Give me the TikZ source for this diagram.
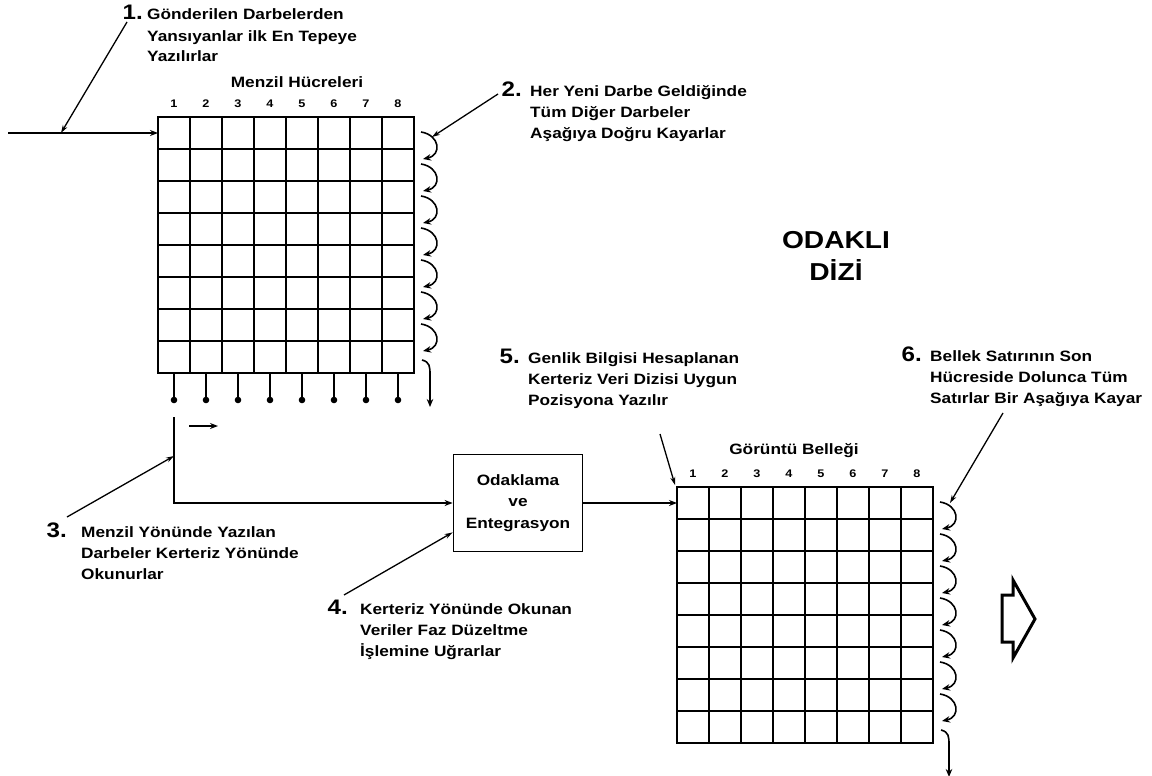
\documentclass[tikz,border=0pt]{standalone}
\usepackage{fontspec}
\setmainfont{Liberation Sans}[FakeStretch=1.15]
\usepackage{tikz}
\usetikzlibrary{positioning, arrows.meta, calc}

\tikzset{
  cellgrid/.style={draw, line width=1.8pt, minimum width=256pt, minimum height=256pt,
                   inner sep=0pt, outer sep=0pt},
  arr/.style={-{Stealth[length=8pt,width=6pt]}, line width=1.5pt},
  kayma/.style={-{Stealth[length=8pt,width=6.5pt]}, line width=1.6pt},
  lead/.style={-{Stealth[length=8pt,width=5pt]}, line width=1.3pt},
  note/.style={align=left, inner sep=0pt, font=\bfseries\fontsize{15}{21}\selectfont},
  numlbl/.style={inner sep=0pt, font=\bfseries\fontsize{21}{21}\selectfont},
  collbl/.style={inner sep=0pt, font=\bfseries\fontsize{11}{12}\selectfont},
}

\begin{document}
\begin{tikzpicture}[x=1pt, y=-1pt]
  \useasboundingbox (0,0) rectangle (1152,776);

  % the two cell memories
  \node[cellgrid] (menzil) at (286,245) {};
  \node[cellgrid] (bellek) at (805,615) {};
  \node[note] (menzilbaslik) at ($(menzil.north)+(11,-35)$) {Menzil Hücreleri};
  \node[note] (bellekbaslik) at ($(bellek.north)+(-11,-36)$) {Görüntü Belleği};

  \foreach \g in {menzil,bellek} {
    \foreach \k in {1,...,7} {
      \draw[line width=1.6pt] ($(\g.north west)+(\k*32,0)$) -- ($(\g.south west)+(\k*32,0)$);
      \draw[line width=1.6pt] ($(\g.north west)+(0,\k*32)$) -- ($(\g.north east)+(0,\k*32)$);
      % shift-down arrows
      \draw[kayma] ($(\g.north east)+(7,\k*32-17)$)
        .. controls +(19,3) and +(19,-4) .. ($(\g.north east)+(9,\k*32+10)$);
    }
    \foreach \k in {1,...,8}
      \node[collbl] (\g-c\k) at ($(\g.north west)+(\k*32-16,-13)$) {\k};
    \draw[kayma] ($(\g.south east)+(8,-13)$)
      .. controls +(8,2) and +(0,-8) .. ($(\g.south east)+(16,2)$) -- ($(\g.south east)+(16,34)$);
  }

  % read-out taps
  \foreach \k in {1,...,8} {
    \draw[line width=1.6pt] ($(menzil.south west)+(\k*32-16,0)$) -- ($(menzil.south west)+(\k*32-16,27)$);
    \fill ($(menzil.south west)+(\k*32-16,27)$) circle (3.3pt);
  }

  % signal path
  \coordinate (giris) at (8,133);
  \draw[arr] (giris) -- (giris -| menzil.west);
  \node[draw, line width=1.8pt, minimum width=129pt, minimum height=97pt, inner sep=0pt,
        align=center, font=\bfseries\fontsize{15}{21.5}\selectfont] (odak) at (518,503)
        {Odaklama\\ve\\Entegrasyon};
  \coordinate (besleme) at ($(menzil.south west)+(16,44)$);
  \draw[arr] (besleme) |- (odak.west);
  \draw[arr] (odak.east) -- (odak.east -| bellek.west);
  \coordinate (okbas) at (189,426);
  \coordinate (okuc) at (218,426);
  \draw[arr] (okbas) -- (okuc);

  % notes (anchored on the baseline of their last line)
  \node[note, anchor=base west] (t1) at (147,62)
    {Gönderilen Darbelerden\\Yansıyanlar ilk En Tepeye\\Yazılırlar};
  \node[note, anchor=base west] (t2) at (530,138)
    {Her Yeni Darbe Geldiğinde\\Tüm Diğer Darbeler\\Aşağıya Doğru Kayarlar};
  \node[note, anchor=base west] (t3) at (81,579)
    {Menzil Yönünde Yazılan\\Darbeler Kerteriz Yönünde\\Okunurlar};
  \node[note, anchor=base west] (t4) at (360,656)
    {Kerteriz Yönünde Okunan\\Veriler Faz Düzeltme\\İşlemine Uğrarlar};
  \node[note, anchor=base west] (t5) at (528,405)
    {Genlik Bilgisi Hesaplanan\\Kerteriz Veri Dizisi Uygun\\Pozisyona Yazılır};
  \node[note, anchor=base west] (t6) at (930,403)
    {Bellek Satırının Son\\Hücreside Dolunca Tüm\\Satırlar Bir Aşağıya Kayar};
  \foreach \n/\gap in {1/4,2/8,3/14,4/12,5/8,6/8}
    \node[numlbl, anchor=base east] (n\n) at ([xshift=-\gap pt, yshift=42pt]t\n.base west) {\n.};

  % leaders
  \coordinate (l1a) at (127,22);   \coordinate (l1b) at (61,133);
  \coordinate (l2a) at (498,94);   \coordinate (l2b) at (432,137);
  \coordinate (l3a) at (67,517);   \coordinate (l3b) at (174,456);
  \coordinate (l4a) at (344,595);  \coordinate (l4b) at ($(odak.south west)+(0,-20)$);
  \coordinate (l5a) at (660,434);  \coordinate (l5b) at ($(bellek.north west)+(-2,-2)$);
  \coordinate (l6a) at (1003,413); \coordinate (l6b) at (950,503);
  \foreach \n in {1,...,6}
    \draw[lead] (l\n a) -- (l\n b);

  \node[align=center, inner sep=0pt, font=\bfseries\fontsize{24.5}{32}\selectfont] (baslik)
    at (836,256) {ODAKLI\\DİZİ};

  % hollow arrow
  \draw[line width=3pt, line join=miter] (1002,595) -- (1013,595) -- (1013,580) -- (1035,619)
    -- (1013,658) -- (1013,642) -- (1002,642) -- cycle;
\end{tikzpicture}
\end{document}
